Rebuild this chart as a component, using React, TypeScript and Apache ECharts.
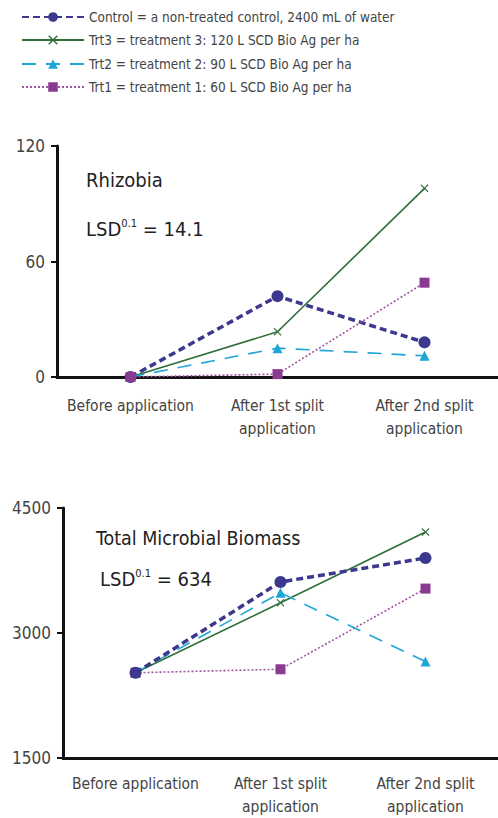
import React, { useEffect, useRef } from "react";
import * as echarts from "echarts";

const categories = ["Before application", "After 1st split\napplication", "After 2nd split\napplication"];
const seriesNames = [
  "Control = a non-treated control, 2400 mL of water",
  "Trt3 = treatment 3: 120 L SCD Bio Ag per ha",
  "Trt2 = treatment 2: 90 L SCD Bio Ag per ha",
  "Trt1 = treatment 1: 60 L SCD Bio Ag per ha",
];
// Rhizobia
const rhizControl = [0, 42, 18];
const rhizTrt3 = [0, 23.5, 98];
const rhizTrt2 = [0, 15, 11];
const rhizTrt1 = [0, 1.5, 49];
// Total Microbial Biomass
const tmbControl = [2523, 3612, 3900];
const tmbTrt3 = [2523, 3363, 4211];
const tmbTrt2 = [2523, 3482, 2657];
const tmbTrt1 = [2523, 2565, 3533];

const rhizTicks = { min: 0, max: 120, interval: 60 };
const tmbTicks = { min: 1500, max: 4500, interval: 1500 };

const FONT = '"Liberation Sans Narrow", "DejaVu Sans Condensed", "Roboto Condensed", "Liberation Sans", sans-serif';
const X_PATH = "path://M0,1L1,0L5,4L9,0L10,1L6,5L10,9L9,10L5,6L1,10L0,9L4,5Z";

const styles = [
  { color: "#3b388d", lineColor: "#3b388d", width: 3.5, type: [7, 4] as any, symbol: "circle", size: 12 },
  { color: "#2f6e38", lineColor: "#2f6e38", width: 1.6, type: "solid" as any, symbol: X_PATH, size: 8 },
  { color: "#1ea6d6", lineColor: "#1ea6d6", width: 1.6, type: [14, 10] as any, symbol: "triangle", size: 10 },
  { color: "#8b3a91", lineColor: "#a054a4", width: 1.6, type: [2, 2] as any, symbol: "rect", size: 10 },
];

function mkSeries(idx: number, data: number[], axisIndex: number, z: number) {
  const s = styles[idx];
  return {
    type: "line",
    name: seriesNames[idx],
    data,
    xAxisIndex: axisIndex,
    yAxisIndex: axisIndex,
    symbol: s.symbol,
    symbolSize: s.size,
    z,
    itemStyle: { color: s.color },
    lineStyle: { color: s.lineColor, width: s.width, type: s.type },
    emphasis: { disabled: true },
  };
}

export default function App() {
  const ref = useRef<HTMLDivElement>(null);
  useEffect(() => {
    if (!ref.current) return;
    const chart = echarts.init(ref.current, undefined, { renderer: "svg" });
    const yAxisBase = {
      type: "value",
      axisLine: { show: true, lineStyle: { color: "#111", width: 3 } },
      axisTick: { show: true, length: 6, lineStyle: { color: "#111", width: 2 } },
      splitLine: { show: false },
      axisLabel: { color: "#444", fontSize: 17, fontFamily: FONT, margin: 12, formatter: (v: number) => String(v) },
    };
    const xAxisBase = {
      type: "category",
      data: categories,
      axisLine: { show: true, lineStyle: { color: "#111", width: 3 } },
      axisTick: { show: false },
      axisLabel: { color: "#444", fontSize: 15.5, fontFamily: FONT, lineHeight: 23, interval: 0 },
    };
    const legendTops = [5, 28, 52, 75];
    const option: any = {
      animation: false,
      textStyle: { fontFamily: FONT },
      legend: legendTops.map((t, i) => ({
        data: [seriesNames[i]],
        left: 16,
        top: t,
        itemWidth: 62,
        itemHeight: 12,
        itemGap: 8,
        selectedMode: false,
        textStyle: { fontSize: 13.5, color: "#444", fontFamily: FONT },
      })),
      grid: [
        { left: 57, top: 146, width: 450, height: 231 },
        { left: 63, top: 508, width: 456, height: 254 },
      ],
      xAxis: [
        { ...xAxisBase, gridIndex: 0, axisLabel: { ...xAxisBase.axisLabel, margin: 17 } },
        { ...xAxisBase, gridIndex: 1, axisLabel: { ...xAxisBase.axisLabel, margin: 14 } },
      ],
      yAxis: [
        { ...yAxisBase, gridIndex: 0, ...rhizTicks },
        { ...yAxisBase, gridIndex: 1, ...tmbTicks },
      ],
      graphic: [
        { type: "text", left: 86, top: 170, style: { text: "Rhizobia", fontSize: 20, fill: "#222", fontFamily: FONT } },
        {
          type: "text", left: 86, top: 218,
          style: {
            text: "{a|LSD}{s|0.1}{a| = 14.1}",
            fontFamily: FONT,
            rich: {
              a: { fontSize: 20, fill: "#222", fontFamily: FONT, lineHeight: 26 },
              s: { fontSize: 11, fill: "#222", fontFamily: FONT, padding: [0, 0, 10, 0], lineHeight: 26 },
            },
          },
        },
        { type: "text", left: 96, top: 528, style: { text: "Total Microbial Biomass", fontSize: 19.5, fill: "#222", fontFamily: FONT } },
        {
          type: "text", left: 100, top: 568,
          style: {
            text: "{a|LSD}{s|0.1}{a| = 634}",
            fontFamily: FONT,
            rich: {
              a: { fontSize: 20, fill: "#222", fontFamily: FONT, lineHeight: 26 },
              s: { fontSize: 11, fill: "#222", fontFamily: FONT, padding: [0, 0, 10, 0], lineHeight: 26 },
            },
          },
        },
      ],
      series: [
        mkSeries(0, rhizControl, 0, 2),
        mkSeries(1, rhizTrt3, 0, 3),
        mkSeries(2, rhizTrt2, 0, 4),
        mkSeries(3, rhizTrt1, 0, 5),
        mkSeries(3, tmbTrt1, 1, 2),
        mkSeries(1, tmbTrt3, 1, 3),
        mkSeries(2, tmbTrt2, 1, 4),
        mkSeries(0, tmbControl, 1, 5),
      ],
    };
    chart.setOption(option);
    return () => chart.dispose();
  }, []);
  return (
    <div
      ref={ref}
      style={{ position: "absolute", left: 0, top: 0, width: 498, height: 818, background: "#fff" }}
    />
  );
}
